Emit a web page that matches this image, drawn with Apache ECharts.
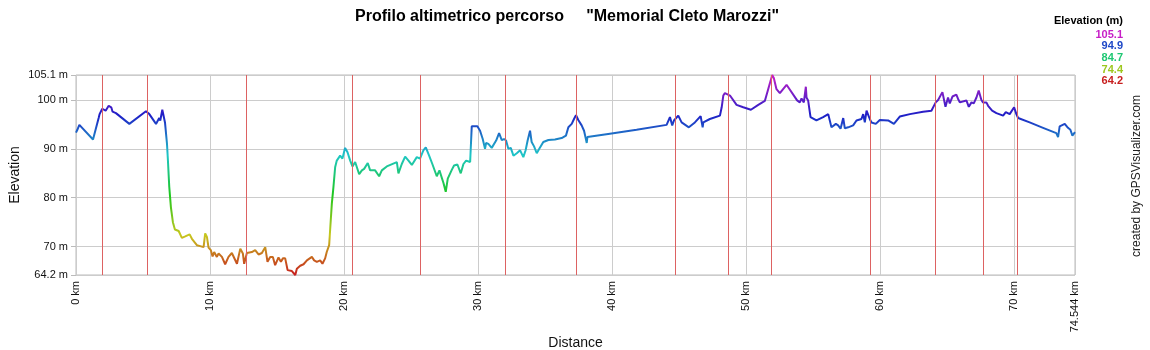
<!DOCTYPE html>
<html><head><meta charset="utf-8">
<script src="https://cdn.jsdelivr.net/npm/echarts@6/dist/echarts.min.js"></script>
<style>html,body{margin:0;padding:0;background:#fff}#c{width:1150px;height:350px}</style>
</head><body><div id="c"></div>
<script>
const distanceKm = [0,0.1,0.25,1.27,1.69,1.76,1.85,1.96,2.21,2.44,2.63,2.73,2.86,2.98,3.98,5.22,5.47,5.97,6.21,6.29,6.44,6.54,6.64,6.79,6.86,6.96,7.08,7.23,7.38,7.66,7.90,8.15,8.48,8.65,8.78,9.02,9.27,
9.52,9.64,9.77,9.89,10.06,10.19,10.31,10.51,10.64,10.89,11.13,11.38,11.63,11.76,12.01,12.26,12.45,12.55,12.75,13.12,13.37,13.62,13.87,14.12,14.29,14.49,14.69,14.86,15.11,15.29,15.44,15.61,15.79,16.11,16.36,16.48,16.73,16.98,17.23,17.35,17.60,17.77,17.97,18.22,18.39,18.59,18.71,18.89,18.96,19.09,19.21,19.34,19.46,19.71,19.88,20.08,20.26,20.46,20.63,20.83,21.13,21.33,21.50,21.77,21.95,22.32,22.62,22.82,23.19,
23.94,24.06,24.31,24.56,24.81,25.06,25.18,25.43,25.67,25.92,26.10,26.35,26.59,26.92,27.12,27.42,27.59,27.74,28.04,28.21,28.46,28.71,28.91,29.11,29.41,29.53,29.95,30.15,30.35,30.52,30.60,30.77,31.02,31.35,31.57,31.77,31.94,32.09,32.26,32.44,32.64,32.89,33.14,33.26,33.38,33.55,33.70,33.88,34.00,34.18,34.38,34.57,34.87,35.25,35.74,36.24,36.56,36.74,36.99,37.16,37.31,
37.48,37.73,37.91,38.03,38.11,38.16,39.84,41.83,44.07,44.32,44.49,44.62,44.74,44.94,45.19,45.73,46.18,46.61,46.76,46.81,47.30,48.05,48.18,48.30,48.42,48.55,48.80,49.29,49.79,50.36,50.91,51.40,51.65,
51.95,52.07,52.27,52.52,53.02,53.81,54.01,54.14,54.31,54.46,54.51,54.63,54.81,55.25,55.75,56.13,56.37,56.70,56.87,57.05,57.25,57.37,57.62,57.99,58.24,58.61,58.74,58.86,58.99,59.11,59.23,59.36,59.48,59.68,59.98,60.60,61.03,61.47,62.22,63.21,63.83,63.96,64.15,64.33,64.65,64.78,64.88,65.07,65.20,65.40,65.69,
65.82,65.95,66.44,66.62,66.82,66.99,67.19,67.36,67.56,67.68,67.93,68.06,68.18,68.36,68.68,69.18,69.38,69.67,70.00,70.17,70.30,71.16,72.16,73.15,73.28,73.40,73.78,74.02,74.20,74.35,74.544];
const elevationM = [93.3,93.9,94.9,91.9,96.3,97.1,96.9,98.2,97.8,98.8,98.5,97.6,98.0,97.3,95.1,97.7,97.1,95.1,96.3,95.8,98.0,98.3,95.4,91.0,87.6,82.2,78.1,75.0,73.5,73.2,71.8,72.1,72.5,71.6,71.3,70.3,70.1,
69.9,72.7,72.0,69.8,69.3,68.0,68.9,67.9,68.6,67.9,66.4,67.9,68.7,68.9,66.5,69.6,68.6,66.5,68.7,68.9,69.3,68.4,68.7,69.9,66.9,67.9,67.9,66.2,67.8,66.9,67.6,67.6,65.2,65.0,64.2,65.5,66.1,66.4,67.2,66.9,67.9,67.2,66.9,67.2,66.5,67.6,68.9,70.3,73.3,78.8,82.2,86.3,87.6,88.6,88.0,90.2,89.3,87.6,86.4,87.3,84.8,85.6,85.9,87.1,85.6,85.6,84.4,85.6,86.4,
87.3,85.0,86.9,88.4,87.6,86.7,86.4,88.3,88.0,89.7,90.3,88.6,86.9,84.4,85.6,83.0,81.2,83.9,85.7,86.6,86.8,85.0,86.9,87.6,87.3,94.6,94.6,93.7,92.0,90.0,91.2,91.0,90.2,91.7,93.2,91.8,92.0,91.7,90.0,90.2,88.6,89.1,89.7,90.1,88.3,89.7,91.7,93.7,91.4,90.5,89.1,90.0,91.4,91.8,91.9,92.2,92.7,94.4,95.1,96.1,96.9,
95.9,94.8,93.7,92.2,91.2,92.4,93.1,93.9,94.9,96.5,94.8,95.8,95.4,96.8,95.4,94.4,95.4,96.7,94.4,95.4,96.1,96.8,98.5,100.9,101.4,101.6,100.9,99.0,98.5,98.0,99.0,99.8,102.2,
105.1,104.5,102.2,101.4,103.1,99.9,99.5,100.3,99.5,102.7,100.5,99.9,96.5,95.8,96.5,97.1,94.4,95.1,94.8,94.1,96.3,94.2,94.4,94.8,95.8,96.1,97.1,95.4,97.8,98.0,96.1,95.4,95.8,95.1,95.9,95.8,95.1,96.6,97.1,97.6,97.8,98.2,99.5,100.0,101.6,101.7,98.6,100.5,99.3,100.7,101.1,
100.2,99.5,99.9,98.6,99.5,99.3,100.5,101.9,100.0,99.5,99.5,98.8,99.2,97.8,97.3,96.8,97.5,97.1,98.5,97.1,96.3,95.4,94.3,93.2,92.4,94.6,95.1,94.3,93.9,92.7,93.4];
const waypointKm = [1.98,5.34,12.72,20.63,25.70,32.04,37.33,44.71,48.66,51.87,59.25,64.10,67.68,70.24];
const xTickKm = [0,10,20,30,40,50,60,70,74.544];
const yTickM = [64.2,70,80,90,100,105.1];
const legendValues = [105.1,94.9,84.7,74.4,64.2];
const elevMin = 64.2, elevMax = 105.1;

function elevColor(v){
  const h = (v - elevMin)/(elevMax - elevMin)*300;
  const s = 0.85, val = 0.78;
  const c = val*s, x = c*(1 - Math.abs((h/60)%2 - 1)), m = val - c;
  let r=0,g=0,b=0;
  if(h<60){r=c;g=x;} else if(h<120){r=x;g=c;} else if(h<180){g=c;b=x;}
  else if(h<240){g=x;b=c;} else if(h<300){r=x;b=c;} else {r=c;b=x;}
  const hx = t => Math.round((t+m)*255).toString(16).padStart(2,'0');
  return '#'+hx(r)+hx(g)+hx(b);
}
const stops = [];
for(let i=0;i<=20;i++){ stops.push(elevColor(elevMin + (elevMax-elevMin)*i/20)); }

const profile = distanceKm.map((d,i)=>[d, elevationM[i]]);
const FONT = 'Liberation Sans, Arial, sans-serif';

const graphics = [
  {type:'text', right: 1150-1123, top: 15, style:{text:'Elevation (m)', font:'bold 11px '+FONT, fill:'#000', textAlign:'right'}}
];
legendValues.forEach((v,i)=>{
  graphics.push({type:'text', right: 1150-1123, top: 29 + i*11.7, style:{text: v.toFixed(1), font:'bold 11px '+FONT, fill: elevColor(v), textAlign:'right'}});
});
graphics.push({type:'text', x:1137, y:176, rotation: Math.PI/2,
  style:{text:'created by GPSVisualizer.com', font:'12px '+FONT, fill:'#222', textAlign:'center', textVerticalAlign:'middle'}});

const chart = echarts.init(document.getElementById('c'), null, {renderer:'canvas'});
chart.setOption({
  backgroundColor:'#fff',
  animation:false,
  title:{ text:'Profilo altimetrico percorso     "Memorial Cleto Marozzi"', left:350, top:4,
    textStyle:{fontFamily:FONT, fontWeight:'bold', fontSize:16, color:'#000'} },
  grid:{ left:76, right:75, top:75, height:200, show:true, borderColor:'#bbb', borderWidth:1, backgroundColor:'#fff',
    containLabel:false, outerBoundsMode:'none' },
  xAxis:{ type:'value', min:0, max:74.544, name:'Distance', nameLocation:'middle', nameGap:61, nameMoveOverlap:false,
    nameTextStyle:{fontFamily:FONT, fontSize:14, color:'#111'},
    axisLine:{show:false}, axisTick:{show:false, customValues:xTickKm},
    axisLabel:{customValues:xTickKm, rotate:90, margin:6, fontFamily:FONT, fontSize:11, color:'#111',
      formatter: v => v + ' km'},
    splitLine:{show:true, lineStyle:{color:'#ccc', width:1}} },
  yAxis:{ type:'value', min:elevMin, max:elevMax, name:'Elevation', nameLocation:'middle', nameGap:54, nameMoveOverlap:false,
    nameTextStyle:{fontFamily:FONT, fontSize:14, color:'#111'},
    axisLine:{show:false}, axisTick:{show:true, length:5, customValues:yTickM, lineStyle:{color:'#bbb'}},
    axisLabel:{customValues:yTickM, margin:8, fontFamily:FONT, fontSize:11, color:'#111',
      formatter: v => v + ' m'},
    splitLine:{show:true, lineStyle:{color:'#ccc', width:1}} },
  visualMap:{ type:'continuous', show:false, seriesIndex:0, dimension:1, min:elevMin, max:elevMax,
    inRange:{color:stops} },
  graphic: graphics,
  series:[
    { type:'line', data:profile, showSymbol:false, symbol:'none', z:3, lineStyle:{width:2}, silent:true },
    { type:'line', data:[], z:2, silent:true,
      markLine:{ silent:true, symbol:['none','none'], label:{show:false}, animation:false,
        lineStyle:{color:'#dd6262', width:1, type:'solid', opacity:1},
        emphasis:{disabled:true},
        data: waypointKm.map(k=>({xAxis:k})) } }
  ]
});
</script>
</body></html>
